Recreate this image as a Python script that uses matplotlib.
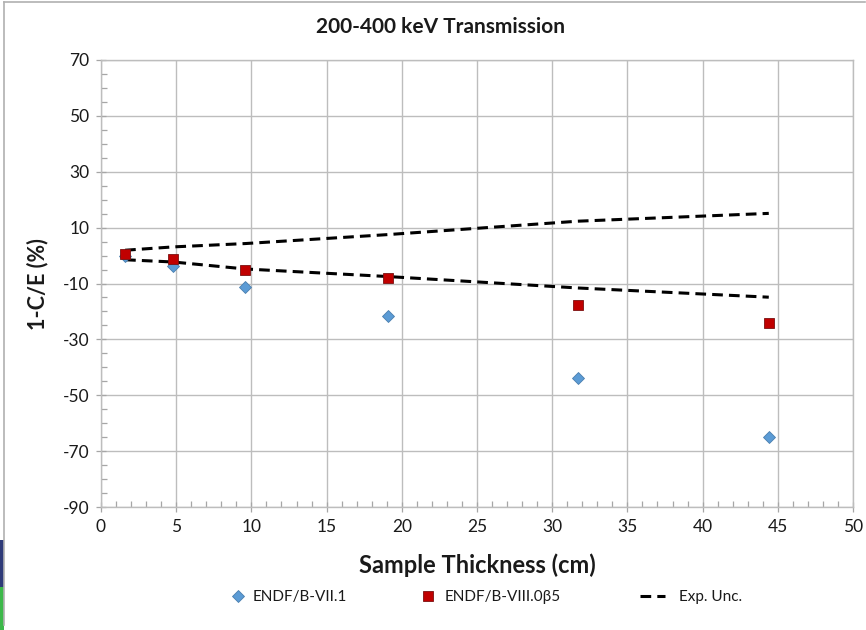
import matplotlib
matplotlib.use("Agg")
import matplotlib.pyplot as plt
from matplotlib.ticker import MultipleLocator, FixedLocator
from matplotlib.patches import Rectangle
from matplotlib.lines import Line2D

plt.rcParams['font.family'] = ['Lato', 'DejaVu Sans']
plt.rcParams['axes.unicode_minus'] = False

# Sample thickness (cm)
thickness = [1.6, 4.8, 9.6, 19.05, 31.7, 44.4]
# 1-C/E (%) for each evaluation
endf_vii1 = [-0.3, -3.8, -11.4, -21.5, -43.8, -64.8]
endf_viii = [0.6, -1.3, -5.3, -7.9, -17.8, -24.3]
# Experimental uncertainty band
unc_upper = [1.9, 3.1, 4.3, 7.5, 12.3, 15.1]
unc_lower = [-1.5, -2.3, -4.8, -7.5, -11.6, -14.9]

y_ticks = [-90, -70, -50, -30, -10, 10, 30, 50, 70]
y_minor = list(range(-90, 71, 5))

grid_col = '#bdbdbd'
text_col = '#1a1a1a'
dash = (0, (3.5, 2.0))

fig = plt.figure(figsize=(8.66, 6.3), dpi=100)
ax = fig.add_axes([101/866, 1-507/630, (853-101)/866, (507-60)/630])

ax.set_xlim(0, 50)
ax.set_ylim(-90, 70)
ax.xaxis.set_major_locator(MultipleLocator(5))
ax.xaxis.set_minor_locator(MultipleLocator(1))
ax.yaxis.set_major_locator(FixedLocator(y_ticks))
ax.yaxis.set_minor_locator(FixedLocator(y_minor))
ax.grid(True, which='major', color=grid_col, lw=1.0)
ax.set_axisbelow(True)
for s in ax.spines.values():
    s.set_color(grid_col)
    s.set_linewidth(1.0)

ax.tick_params(which='major', direction='inout', length=7, width=0.9,
               color='#a6a6a6', labelsize=12.5, labelcolor=text_col, pad=5)
ax.tick_params(which='minor', direction='in', length=4, width=0.9,
               color='#a6a6a6')
ax.tick_params(axis='x', which='both', top=False)
ax.tick_params(axis='y', which='both', right=False)

ax.plot(thickness, unc_upper, color='black', lw=2.2, ls=dash, zorder=2)
ax.plot(thickness, unc_lower, color='black', lw=2.2, ls=dash, zorder=2)
ax.plot(thickness, endf_vii1, ls='none', marker='D', ms=6.5,
        mfc='#5b9bd5', mec='#4a7fae', mew=0.6, zorder=3)
ax.plot(thickness, endf_viii, ls='none', marker='s', ms=7.5,
        mfc='#c00000', mec='#7a1010', mew=0.6, zorder=4)

fig.text(441/866, 1-27/630, '200-400 keV Transmission', ha='center',
         va='center', fontsize=15, fontweight='bold', color=text_col)
fig.text(477/866, 1-565/630, 'Sample Thickness (cm)', ha='center',
         va='center', fontsize=17, fontweight='bold', color=text_col)
fig.text(38/866, 1-284/630, '1-C/E (%)', ha='center', va='center',
         rotation=90, fontsize=15.5, fontweight='bold', color=text_col)

# Legend entries placed one by one along the bottom row
leg_fs = 11
entries = [
    (Line2D([], [], ls='none', marker='D', ms=6.5, mfc='#5b9bd5',
            mec='#4a7fae', mew=0.6), 'ENDF/B-VII.1', 230, 1.0, 0.5),
    (Line2D([], [], ls='none', marker='s', ms=7.5, mfc='#c00000',
            mec='#7a1010', mew=0.6), 'ENDF/B-VIII.0β5', 420, 1.0, 0.62),
    (Line2D([], [], color='black', lw=2.2, ls=dash), 'Exp. Unc.', 640,
     1.65, 0.9),
]
for handle, label, x0, hl, tp in entries:
    fig.legend([handle], [label], loc='center left',
               bbox_to_anchor=(x0/866, 1-597/630), frameon=False,
               fontsize=leg_fs, handlelength=hl, handletextpad=tp,
               borderpad=0, borderaxespad=0, labelcolor=text_col)

# Frame lines and edge strip
fig.add_artist(Line2D([4/866, 4/866], [1-625/630, 1-2/630],
                      transform=fig.transFigure, color='#b0b0b0', lw=1.2))
fig.add_artist(Line2D([4/866, 865/866], [1-2/630, 1-2/630],
                      transform=fig.transFigure, color='#b0b0b0', lw=1.2))
fig.add_artist(Rectangle((0, 1-587/630), 3.5/866, 47/630,
                         transform=fig.transFigure, color='#2e3a78', lw=0))
fig.add_artist(Rectangle((0, 0), 3.5/866, 43/630,
                         transform=fig.transFigure, color='#3cb84a', lw=0))

fig.savefig('out.png', dpi=100)
